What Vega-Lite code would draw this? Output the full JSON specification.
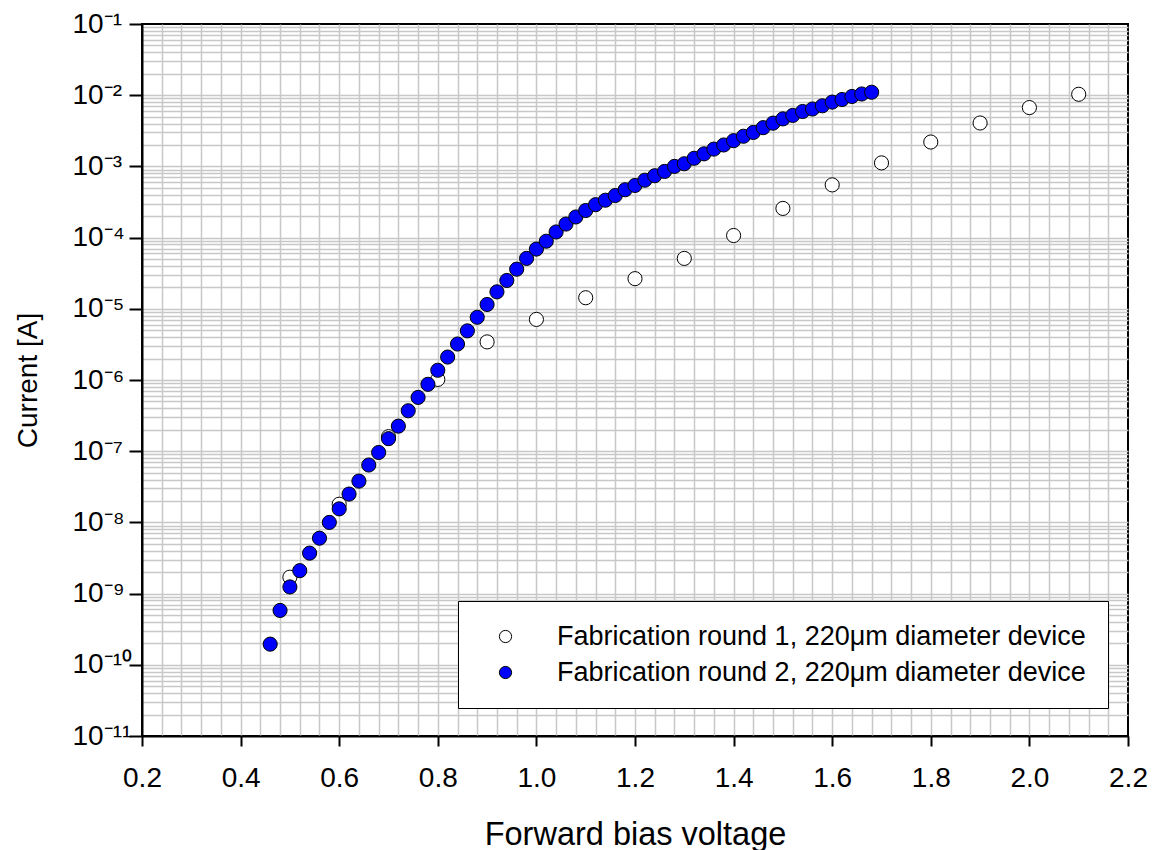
{
  "$schema": "https://vega.github.io/schema/vega-lite/v6.json",
  "width": 986,
  "height": 712,
  "autosize": {"type": "none"},
  "padding": {"left": 142, "top": 24, "right": 27, "bottom": 114},
  "background": "#ffffff",
  "config": {
    "font": "Liberation Sans",
    "view": {"stroke": "#000000", "strokeWidth": 2}
  },
  "datasets": {
    "iv": [
      {"series": "Fabrication round 1, 220μm diameter device", "voltage": 0.5, "current": 1.7e-9},
      {"series": "Fabrication round 1, 220μm diameter device", "voltage": 0.6, "current": 1.8e-8},
      {"series": "Fabrication round 1, 220μm diameter device", "voltage": 0.7, "current": 1.6e-7},
      {"series": "Fabrication round 1, 220μm diameter device", "voltage": 0.8, "current": 1.02e-6},
      {"series": "Fabrication round 1, 220μm diameter device", "voltage": 0.9, "current": 3.43e-6},
      {"series": "Fabrication round 1, 220μm diameter device", "voltage": 1.0, "current": 7.1e-6},
      {"series": "Fabrication round 1, 220μm diameter device", "voltage": 1.1, "current": 1.43e-5},
      {"series": "Fabrication round 1, 220μm diameter device", "voltage": 1.2, "current": 2.65e-5},
      {"series": "Fabrication round 1, 220μm diameter device", "voltage": 1.3, "current": 5.1e-5},
      {"series": "Fabrication round 1, 220μm diameter device", "voltage": 1.4, "current": 1.07e-4},
      {"series": "Fabrication round 1, 220μm diameter device", "voltage": 1.5, "current": 2.57e-4},
      {"series": "Fabrication round 1, 220μm diameter device", "voltage": 1.6, "current": 5.5e-4},
      {"series": "Fabrication round 1, 220μm diameter device", "voltage": 1.7, "current": 1.12e-3},
      {"series": "Fabrication round 1, 220μm diameter device", "voltage": 1.8, "current": 2.2e-3},
      {"series": "Fabrication round 1, 220μm diameter device", "voltage": 1.9, "current": 4.07e-3},
      {"series": "Fabrication round 1, 220μm diameter device", "voltage": 2.0, "current": 6.7e-3},
      {"series": "Fabrication round 1, 220μm diameter device", "voltage": 2.1, "current": 1.03e-2},
      {"series": "Fabrication round 2, 220μm diameter device", "voltage": 0.46, "current": 1.95e-10},
      {"series": "Fabrication round 2, 220μm diameter device", "voltage": 0.48, "current": 5.8e-10},
      {"series": "Fabrication round 2, 220μm diameter device", "voltage": 0.50, "current": 1.24e-9},
      {"series": "Fabrication round 2, 220μm diameter device", "voltage": 0.52, "current": 2.1e-9},
      {"series": "Fabrication round 2, 220μm diameter device", "voltage": 0.54, "current": 3.7e-9},
      {"series": "Fabrication round 2, 220μm diameter device", "voltage": 0.56, "current": 6.0e-9},
      {"series": "Fabrication round 2, 220μm diameter device", "voltage": 0.58, "current": 1.0e-8},
      {"series": "Fabrication round 2, 220μm diameter device", "voltage": 0.60, "current": 1.55e-8},
      {"series": "Fabrication round 2, 220μm diameter device", "voltage": 0.62, "current": 2.5e-8},
      {"series": "Fabrication round 2, 220μm diameter device", "voltage": 0.64, "current": 3.8e-8},
      {"series": "Fabrication round 2, 220μm diameter device", "voltage": 0.66, "current": 6.4e-8},
      {"series": "Fabrication round 2, 220μm diameter device", "voltage": 0.68, "current": 9.6e-8},
      {"series": "Fabrication round 2, 220μm diameter device", "voltage": 0.70, "current": 1.5e-7},
      {"series": "Fabrication round 2, 220μm diameter device", "voltage": 0.72, "current": 2.25e-7},
      {"series": "Fabrication round 2, 220μm diameter device", "voltage": 0.74, "current": 3.7e-7},
      {"series": "Fabrication round 2, 220μm diameter device", "voltage": 0.76, "current": 5.7e-7},
      {"series": "Fabrication round 2, 220μm diameter device", "voltage": 0.78, "current": 8.7e-7},
      {"series": "Fabrication round 2, 220μm diameter device", "voltage": 0.80, "current": 1.37e-6},
      {"series": "Fabrication round 2, 220μm diameter device", "voltage": 0.82, "current": 2.1e-6},
      {"series": "Fabrication round 2, 220μm diameter device", "voltage": 0.84, "current": 3.2e-6},
      {"series": "Fabrication round 2, 220μm diameter device", "voltage": 0.86, "current": 4.9e-6},
      {"series": "Fabrication round 2, 220μm diameter device", "voltage": 0.88, "current": 7.6e-6},
      {"series": "Fabrication round 2, 220μm diameter device", "voltage": 0.90, "current": 1.15e-5},
      {"series": "Fabrication round 2, 220μm diameter device", "voltage": 0.92, "current": 1.73e-5},
      {"series": "Fabrication round 2, 220μm diameter device", "voltage": 0.94, "current": 2.5e-5},
      {"series": "Fabrication round 2, 220μm diameter device", "voltage": 0.96, "current": 3.6e-5},
      {"series": "Fabrication round 2, 220μm diameter device", "voltage": 0.98, "current": 5.1e-5},
      {"series": "Fabrication round 2, 220μm diameter device", "voltage": 1.00, "current": 6.9e-5},
      {"series": "Fabrication round 2, 220μm diameter device", "voltage": 1.02, "current": 8.9e-5},
      {"series": "Fabrication round 2, 220μm diameter device", "voltage": 1.04, "current": 1.2e-4},
      {"series": "Fabrication round 2, 220μm diameter device", "voltage": 1.06, "current": 1.55e-4},
      {"series": "Fabrication round 2, 220μm diameter device", "voltage": 1.08, "current": 1.95e-4},
      {"series": "Fabrication round 2, 220μm diameter device", "voltage": 1.10, "current": 2.4e-4},
      {"series": "Fabrication round 2, 220μm diameter device", "voltage": 1.12, "current": 2.9e-4},
      {"series": "Fabrication round 2, 220μm diameter device", "voltage": 1.14, "current": 3.35e-4},
      {"series": "Fabrication round 2, 220μm diameter device", "voltage": 1.16, "current": 3.9e-4},
      {"series": "Fabrication round 2, 220μm diameter device", "voltage": 1.18, "current": 4.7e-4},
      {"series": "Fabrication round 2, 220μm diameter device", "voltage": 1.20, "current": 5.4e-4},
      {"series": "Fabrication round 2, 220μm diameter device", "voltage": 1.22, "current": 6.4e-4},
      {"series": "Fabrication round 2, 220μm diameter device", "voltage": 1.24, "current": 7.4e-4},
      {"series": "Fabrication round 2, 220μm diameter device", "voltage": 1.26, "current": 8.5e-4},
      {"series": "Fabrication round 2, 220μm diameter device", "voltage": 1.28, "current": 1.0e-3},
      {"series": "Fabrication round 2, 220μm diameter device", "voltage": 1.30, "current": 1.09e-3},
      {"series": "Fabrication round 2, 220μm diameter device", "voltage": 1.32, "current": 1.3e-3},
      {"series": "Fabrication round 2, 220μm diameter device", "voltage": 1.34, "current": 1.5e-3},
      {"series": "Fabrication round 2, 220μm diameter device", "voltage": 1.36, "current": 1.75e-3},
      {"series": "Fabrication round 2, 220μm diameter device", "voltage": 1.38, "current": 2.0e-3},
      {"series": "Fabrication round 2, 220μm diameter device", "voltage": 1.40, "current": 2.3e-3},
      {"series": "Fabrication round 2, 220μm diameter device", "voltage": 1.42, "current": 2.65e-3},
      {"series": "Fabrication round 2, 220μm diameter device", "voltage": 1.44, "current": 3.0e-3},
      {"series": "Fabrication round 2, 220μm diameter device", "voltage": 1.46, "current": 3.5e-3},
      {"series": "Fabrication round 2, 220μm diameter device", "voltage": 1.48, "current": 4.05e-3},
      {"series": "Fabrication round 2, 220μm diameter device", "voltage": 1.50, "current": 4.65e-3},
      {"series": "Fabrication round 2, 220μm diameter device", "voltage": 1.52, "current": 5.2e-3},
      {"series": "Fabrication round 2, 220μm diameter device", "voltage": 1.54, "current": 5.9e-3},
      {"series": "Fabrication round 2, 220μm diameter device", "voltage": 1.56, "current": 6.4e-3},
      {"series": "Fabrication round 2, 220μm diameter device", "voltage": 1.58, "current": 7.1e-3},
      {"series": "Fabrication round 2, 220μm diameter device", "voltage": 1.60, "current": 8.0e-3},
      {"series": "Fabrication round 2, 220μm diameter device", "voltage": 1.62, "current": 8.7e-3},
      {"series": "Fabrication round 2, 220μm diameter device", "voltage": 1.64, "current": 9.6e-3},
      {"series": "Fabrication round 2, 220μm diameter device", "voltage": 1.66, "current": 1.04e-2},
      {"series": "Fabrication round 2, 220μm diameter device", "voltage": 1.68, "current": 1.1e-2}
    ]
  },
  "data": {"name": "iv"},
  "mark": {
    "type": "point",
    "filled": true,
    "shape": "circle",
    "size": 200,
    "stroke": "#000000",
    "strokeWidth": 1,
    "opacity": 1
  },
  "encoding": {
    "x": {
      "field": "voltage",
      "type": "quantitative",
      "scale": {"domain": [0.2, 2.2], "nice": false, "zero": false},
      "axis": {
        "title": "Forward bias voltage",
        "values": [0.2, 0.24, 0.28, 0.32, 0.36, 0.4, 0.44, 0.48, 0.52, 0.56, 0.6, 0.64, 0.68, 0.72, 0.76, 0.8, 0.84, 0.88, 0.92, 0.96, 1.0, 1.04, 1.08, 1.12, 1.16, 1.2, 1.24, 1.28, 1.32, 1.36, 1.4, 1.44, 1.48, 1.52, 1.56, 1.6, 1.64, 1.68, 1.72, 1.76, 1.8, 1.84, 1.88, 1.92, 1.96, 2.0, 2.04, 2.08, 2.12, 2.16, 2.2],
        "labelExpr": "abs(datum.value * 5 - round(datum.value * 5)) < 0.001 ? format(datum.value, '.1f') : ''",
        "labelBaseline": "alphabetic",
        "labelPadding": 40,
        "labelFontSize": 28,
        "labelColor": "#000000",
        "labelFlush": false,
        "labelOverlap": false,
        "labelBound": false,
        "tickSize": 10,
        "tickWidth": 2,
        "tickColor": "#000000",
        "tickOpacity": {"condition": {"test": "abs(datum.value * 5 - round(datum.value * 5)) < 0.001", "value": 1}, "value": 0},
        "grid": true,
        "gridColor": "#c8c8c8",
        "gridWidth": 1.5,
        "gridOpacity": {"condition": {"test": "datum.value < 0.21 || datum.value > 2.19", "value": 0}, "value": 1},
        "domainColor": "#000000",
        "domainWidth": 2,
        "titleFontSize": 32.5,
        "titleFontWeight": "normal",
        "titleColor": "#000000",
        "titleY": 108,
        "titleBaseline": "alphabetic"
      }
    },
    "y": {
      "field": "current",
      "type": "quantitative",
      "scale": {"type": "log", "domain": [1e-11, 0.1], "nice": false},
      "axis": {
        "title": "Current [A]",
        "values": [1e-11, 2e-11, 3e-11, 4e-11, 5e-11, 6e-11, 7e-11, 8e-11, 9e-11,
                   1e-10, 2e-10, 3e-10, 4e-10, 5e-10, 6e-10, 7e-10, 8e-10, 9e-10,
                   1e-9, 2e-9, 3e-9, 4e-9, 5e-9, 6e-9, 7e-9, 8e-9, 9e-9,
                   1e-8, 2e-8, 3e-8, 4e-8, 5e-8, 6e-8, 7e-8, 8e-8, 9e-8,
                   1e-7, 2e-7, 3e-7, 4e-7, 5e-7, 6e-7, 7e-7, 8e-7, 9e-7,
                   1e-6, 2e-6, 3e-6, 4e-6, 5e-6, 6e-6, 7e-6, 8e-6, 9e-6,
                   1e-5, 2e-5, 3e-5, 4e-5, 5e-5, 6e-5, 7e-5, 8e-5, 9e-5,
                   1e-4, 2e-4, 3e-4, 4e-4, 5e-4, 6e-4, 7e-4, 8e-4, 9e-4,
                   1e-3, 2e-3, 3e-3, 4e-3, 5e-3, 6e-3, 7e-3, 8e-3, 9e-3,
                   1e-2, 2e-2, 3e-2, 4e-2, 5e-2, 6e-2, 7e-2, 8e-2, 9e-2,
                   1e-1],
        "labelExpr": "abs(log(datum.value) / LN10 - round(log(datum.value) / LN10)) < 0.001 ? ('10⁻' + (-round(log(datum.value) / LN10) >= 10 ? '¹' + substring('⁰¹²³⁴⁵⁶⁷⁸⁹', -round(log(datum.value) / LN10) - 10, -round(log(datum.value) / LN10) - 9) : substring('⁰¹²³⁴⁵⁶⁷⁸⁹', -round(log(datum.value) / LN10), -round(log(datum.value) / LN10) + 1))) : ''",
        "labelAlign": "left",
        "labelBaseline": "middle",
        "labelPadding": 57,
        "labelFontSize": 28,
        "labelColor": "#000000",
        "labelFlush": false,
        "labelOverlap": false,
        "labelBound": false,
        "tickSize": 13,
        "tickWidth": 2,
        "tickColor": "#000000",
        "tickOpacity": {"condition": {"test": "abs(log(datum.value) / LN10 - round(log(datum.value) / LN10)) < 0.001", "value": 1}, "value": 0},
        "grid": true,
        "gridColor": "#c8c8c8",
        "gridWidth": 1.5,
        "gridOpacity": {"condition": {"test": "datum.value < 1.5e-11 || datum.value > 0.095", "value": 0}, "value": 1},
        "domainColor": "#000000",
        "domainWidth": 2,
        "titleFontSize": 28,
        "titleFontWeight": "normal",
        "titleColor": "#000000",
        "titleX": -106,
        "titleY": 356,
        "titleAngle": 270,
        "titleBaseline": "alphabetic"
      }
    },
    "fill": {
      "field": "series",
      "type": "nominal",
      "scale": {
        "domain": ["Fabrication round 1, 220μm diameter device", "Fabrication round 2, 220μm diameter device"],
        "range": ["#ffffff", "#0000ff"]
      },
      "legend": {
        "title": null,
        "orient": "none",
        "legendX": 316,
        "legendY": 577,
        "padding": 22,
        "strokeColor": "#000000",
        "fillColor": "#ffffff",
        "symbolType": "circle",
        "symbolSize": 150,
        "symbolStrokeColor": "#000000",
        "symbolStrokeWidth": 1,
        "symbolOffset": 12,
        "labelOffset": 38,
        "labelFontSize": 27,
        "labelColor": "#000000",
        "labelLimit": 1000,
        "rowPadding": 8,
        "encode": {"legend": {"update": {"strokeWidth": {"value": 2}}}}
      }
    }
  }
}
